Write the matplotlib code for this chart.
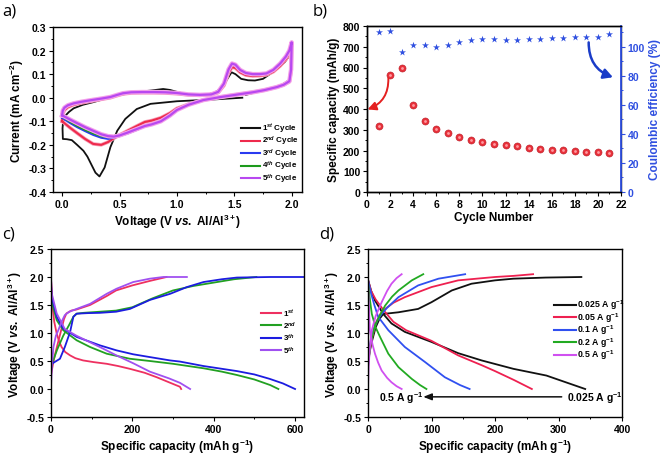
import matplotlib
matplotlib.use('Agg')
import matplotlib.pyplot as plt
from matplotlib.ticker import MultipleLocator
import matplotlib.patheffects as pe

plt.rcParams.update({
    'font.family': 'Liberation Sans',
    'font.weight': 'bold',
    'axes.labelweight': 'bold',
    'mathtext.fontset': 'custom',
    'mathtext.rm': 'Liberation Sans:bold',
    'mathtext.bf': 'Liberation Sans:bold',
    'mathtext.it': 'Liberation Sans:bold:italic',
    'xtick.direction': 'out', 'ytick.direction': 'out',
    'xtick.major.size': 2.8, 'ytick.major.size': 2.8,
    'xtick.minor.size': 1.5, 'ytick.minor.size': 1.5,
    'xtick.major.width': 0.8, 'ytick.major.width': 0.8,
    'xtick.minor.width': 0.7, 'ytick.minor.width': 0.7,
    'xtick.major.pad': 2, 'ytick.major.pad': 2,
    'axes.linewidth': 1.0,
    'xtick.labelsize': 7.5, 'ytick.labelsize': 7.5,
})

# ---------------- Panel a: CV data ----------------
cv1_v = [1.57, 1.3, 1.0, 0.77, 0.65, 0.55, 0.48, 0.42, 0.37, 0.325, 0.29, 0.26, 0.22, 0.185, 0.13, 0.084,
         0.04, 0.006, 0.003, 0.008, 0.03, 0.06, 0.1, 0.18, 0.27, 0.37, 0.475, 0.6, 0.7, 0.765, 0.88, 0.94,
         1.02, 1.11, 1.26, 1.33, 1.40, 1.44, 1.476, 1.51, 1.56, 1.62, 1.68, 1.75, 1.81, 1.88, 1.94, 1.997,
         1.995, 1.98, 1.9, 1.8, 1.7, 1.6]
cv1_i = [0.0, -0.008, -0.015, -0.026, -0.048, -0.09, -0.14, -0.21, -0.296, -0.334, -0.318, -0.289, -0.25,
         -0.225, -0.2, -0.18, -0.176, -0.175, -0.13, -0.1, -0.075, -0.06, -0.045, -0.03, -0.019, -0.005,
         0.009, 0.02, 0.027, 0.03, 0.037, 0.033, 0.022, 0.013, 0.013, 0.022, 0.045, 0.08, 0.108, 0.1, 0.08,
         0.074, 0.073, 0.08, 0.1, 0.125, 0.151, 0.19, 0.12, 0.075, 0.05, 0.035, 0.025, 0.012]

cv_v = [0.0, 0.005, 0.02, 0.05, 0.1, 0.17, 0.27, 0.35, 0.42, 0.48, 0.53, 0.6, 0.7, 0.8, 0.9, 1.0, 1.1, 1.2,
        1.3, 1.36, 1.41, 1.45, 1.48, 1.51, 1.55, 1.6, 1.66, 1.72, 1.78, 1.84, 1.9, 1.95, 1.98, 2.0, 1.995,
        1.98, 1.93, 1.87, 1.76, 1.66, 1.52, 1.37, 1.23, 1.1, 1.0, 0.94, 0.86, 0.78, 0.72, 0.65, 0.57, 0.5,
        0.45, 0.4, 0.34, 0.27, 0.2, 0.13, 0.07, 0.02, 0.0]
cv2_i = [-0.1, -0.07, -0.052, -0.04, -0.03, -0.022, -0.013, -0.006, 0.0, 0.009,
         0.016, 0.02, 0.021, 0.021, 0.02, 0.017, 0.012, 0.01, 0.012, 0.022,
         0.052, 0.105, 0.13, 0.126, 0.108, 0.096, 0.092, 0.093, 0.097, 0.11,
         0.135, 0.163, 0.188, 0.222, 0.115, 0.068, 0.055, 0.045, 0.032, 0.023,
         0.013, 0.002, -0.01, -0.028, -0.045, -0.065, -0.085, -0.097, -0.103, -0.12,
         -0.14, -0.158, -0.172, -0.188, -0.2, -0.196, -0.175, -0.15, -0.128, -0.108, -0.1]
cv3_i = [-0.085, -0.06, -0.045, -0.034, -0.025, -0.018, -0.01, -0.004, 0.002, 0.011,
         0.018, 0.022, 0.023, 0.023, 0.022, 0.019, 0.013, 0.011, 0.013, 0.024,
         0.058, 0.115, 0.14, 0.136, 0.116, 0.104, 0.1, 0.1, 0.103, 0.117,
         0.143, 0.172, 0.197, 0.232, 0.12, 0.07, 0.055, 0.045, 0.032, 0.023,
         0.013, 0.002, -0.01, -0.03, -0.053, -0.078, -0.102, -0.115, -0.122, -0.137,
         -0.152, -0.163, -0.17, -0.175, -0.17, -0.158, -0.142, -0.125, -0.108, -0.092, -0.085]
cv4_i = [-0.08, -0.058, -0.044, -0.033, -0.025, -0.018, -0.01, -0.004, 0.002, 0.011,
         0.018, 0.022, 0.023, 0.023, 0.022, 0.019, 0.013, 0.011, 0.013, 0.024,
         0.058, 0.116, 0.142, 0.138, 0.117, 0.104, 0.1, 0.1, 0.103, 0.117,
         0.143, 0.173, 0.198, 0.233, 0.12, 0.07, 0.055, 0.045, 0.032, 0.023,
         0.013, 0.002, -0.01, -0.03, -0.053, -0.077, -0.101, -0.114, -0.121, -0.135,
         -0.15, -0.16, -0.166, -0.168, -0.164, -0.152, -0.137, -0.12, -0.103, -0.087, -0.08]
cv5_i = [-0.075, -0.055, -0.042, -0.032, -0.024, -0.017, -0.009, -0.003, 0.003, 0.012,
         0.019, 0.023, 0.024, 0.024, 0.023, 0.02, 0.014, 0.012, 0.014, 0.025,
         0.06, 0.12, 0.145, 0.14, 0.118, 0.105, 0.1, 0.1, 0.103, 0.118,
         0.145, 0.175, 0.2, 0.235, 0.12, 0.07, 0.055, 0.045, 0.032, 0.023,
         0.013, 0.002, -0.01, -0.03, -0.052, -0.075, -0.1, -0.113, -0.12, -0.133,
         -0.148, -0.16, -0.165, -0.163, -0.155, -0.14, -0.125, -0.108, -0.093, -0.08, -0.075]
cv_labels = [r'1$^{st}$ Cycle', r'2$^{nd}$ Cycle', r'3$^{rd}$ Cycle', r'4$^{th}$ Cycle', r'5$^{th}$ Cycle']

# ---------------- Panel b: cycling data ----------------
cycles = list(range(1, 22))
capacity = [318, 562, 600, 418, 342, 305, 283, 267, 251, 241, 231, 226, 220, 214, 209, 204, 201, 198, 194, 191, 188]
efficiency = [110.4, 110.5, 96.5, 101.1, 101.0, 99.5, 101.0, 103.2, 104.4, 105.0, 105.0, 104.8, 104.8,
              105.5, 105.5, 106.0, 106.0, 106.5, 107.0, 107.0, 108.5]

# ---------------- Panel c: charge/discharge per cycle ----------------
c1_chg_q = [0, 5, 10, 18, 25, 32, 38, 50, 63, 96, 137, 160, 200, 243, 284]
c1_chg_v = [0.25, 0.45, 0.62, 0.85, 1.05, 1.25, 1.35, 1.4, 1.42, 1.5, 1.66, 1.76, 1.85, 1.93, 2.0]
c1_dis_q = [0, 2, 4, 8, 14, 20, 26, 35, 47, 60, 79, 105, 137, 165, 194, 230, 260, 290, 317, 320]
c1_dis_v = [1.95, 1.75, 1.46, 1.2, 0.99, 0.85, 0.75, 0.66, 0.6, 0.55, 0.51, 0.48, 0.45, 0.41, 0.36, 0.29, 0.21, 0.12, 0.04, 0.0]
c2_chg_q = [0, 5, 15, 30, 45, 55, 63, 80, 120, 160, 200, 250, 300, 350, 400, 450, 505]
c2_chg_v = [0.35, 0.5, 0.7, 0.95, 1.15, 1.29, 1.345, 1.36, 1.38, 1.4, 1.46, 1.62, 1.76, 1.84, 1.9, 1.96, 2.0]
c2_dis_q = [0, 2, 14, 30, 63, 96, 137, 194, 243, 300, 375, 420, 457, 500, 539, 559]
c2_dis_v = [1.7, 1.55, 1.23, 1.05, 0.87, 0.75, 0.63, 0.54, 0.5, 0.45, 0.37, 0.31, 0.25, 0.17, 0.07, 0.0]
c3_chg_q = [0, 2, 22, 34, 47, 55, 63, 90, 120, 160, 194, 243, 293, 317, 334, 375, 420, 457, 539, 620]
c3_chg_v = [0.3, 0.45, 0.54, 0.75, 1.02, 1.29, 1.345, 1.355, 1.36, 1.38, 1.43, 1.59, 1.70, 1.77, 1.82, 1.91, 1.96, 1.99, 2.0, 2.0]
c3_dis_q = [0, 2, 14, 30, 63, 120, 161, 202, 243, 293, 317, 375, 457, 500, 538, 570, 600]
c3_dis_v = [1.85, 1.64, 1.29, 1.08, 0.93, 0.78, 0.69, 0.62, 0.57, 0.51, 0.49, 0.41, 0.32, 0.26, 0.18, 0.1, 0.0]
c5_chg_q = [0, 2, 6, 12, 18, 26, 34, 45, 63, 96, 137, 161, 202, 243, 276, 334]
c5_chg_v = [0.05, 0.4, 0.75, 0.95, 1.05, 1.2, 1.32, 1.38, 1.43, 1.52, 1.70, 1.79, 1.91, 1.97, 2.0, 2.0]
c5_dis_q = [0, 2, 14, 34, 63, 120, 161, 202, 243, 290, 317, 342]
c5_dis_v = [1.98, 1.7, 1.35, 1.07, 0.95, 0.75, 0.6, 0.46, 0.31, 0.19, 0.11, 0.0]
c_labels = [r'1$^{st}$', r'2$^{nd}$', r'3$^{th}$', r'5$^{th}$']

# ---------------- Panel d: rate data ----------------
d025_chg_q = [0, 5, 12, 18, 24, 48, 79, 100, 132, 163, 200, 229, 280, 336]
d025_chg_v = [0.5, 0.8, 1.1, 1.25, 1.34, 1.37, 1.43, 1.55, 1.76, 1.88, 1.94, 1.97, 1.99, 2.0]
d025_dis_q = [0, 5, 11, 24, 37, 58, 100, 142, 179, 229, 281, 342]
d025_dis_v = [1.95, 1.75, 1.58, 1.34, 1.17, 1.02, 0.84, 0.64, 0.51, 0.36, 0.24, 0.0]
d05_chg_q = [0, 6, 13, 20, 27, 40, 58, 100, 142, 200, 229, 260]
d05_chg_v = [0.5, 0.9, 1.2, 1.35, 1.43, 1.54, 1.64, 1.82, 1.94, 2.0, 2.02, 2.05]
d05_dis_q = [0, 5, 12, 25, 40, 60, 100, 142, 180, 200, 230, 258]
d05_dis_v = [1.95, 1.75, 1.6, 1.4, 1.2, 1.05, 0.86, 0.6, 0.42, 0.32, 0.16, 0.0]
d1_chg_q = [0, 5, 10, 16, 21.5, 30, 48, 79, 111, 153]
d1_chg_v = [0.55, 0.9, 1.1, 1.25, 1.34, 1.45, 1.64, 1.85, 1.97, 2.05]
d1_dis_q = [0, 5, 10, 16, 32, 58, 90, 121, 145, 160]
d1_dis_v = [1.95, 1.7, 1.5, 1.29, 1.05, 0.75, 0.48, 0.21, 0.07, 0.0]
d2_chg_q = [0, 4, 10, 18, 27, 38, 48, 69, 87]
d2_chg_v = [0.4, 0.8, 1.1, 1.3, 1.49, 1.65, 1.76, 1.94, 2.05]
d2_dis_q = [0, 3, 6, 12, 19, 32, 48, 69, 82, 92]
d2_dis_v = [1.9, 1.6, 1.34, 1.1, 0.93, 0.63, 0.39, 0.18, 0.07, 0.0]
d5_chg_q = [0, 1, 3, 6, 12, 21.5, 30, 37, 45, 53]
d5_chg_v = [0.0, 0.4, 0.75, 1.05, 1.3, 1.55, 1.75, 1.88, 1.98, 2.05]
d5_dis_q = [0, 1, 3, 7, 11, 16, 21.5, 30, 37, 45, 53]
d5_dis_v = [1.95, 1.6, 1.05, 0.8, 0.63, 0.47, 0.33, 0.2, 0.12, 0.05, 0.0]
d_labels = [r'0.025 A g$^{-1}$', r'0.05 A g$^{-1}$', r'0.1 A g$^{-1}$', r'0.2 A g$^{-1}$', r'0.5 A g$^{-1}$']

W, H = 661, 456
fig = plt.figure(figsize=(W / 100, H / 100), dpi=100)


def box(l, t, r, b):
    return [l / W, 1 - b / H, (r - l) / W, (b - t) / H]


LBL = 8.5

# ---- a ----
axa = fig.add_axes(box(53, 28, 302, 193))
cols_a = ['#111111', '#ee2a4c', '#2a3af0', '#1c9a1c', '#b848f0']
axa.plot(cv1_v, cv1_i, color=cols_a[0], lw=1.3)
axa.plot(cv_v, cv2_i, color=cols_a[1], lw=1.5,
         path_effects=[pe.Stroke(linewidth=2.6, foreground='#f8a0b8'), pe.Normal()])
axa.plot(cv_v, cv3_i, color=cols_a[2], lw=1.4)
axa.plot(cv_v, cv4_i, color=cols_a[3], lw=1.2)
axa.plot(cv_v, cv5_i, color=cols_a[4], lw=1.6,
         path_effects=[pe.Stroke(linewidth=3.2, foreground='#f4a0ea'), pe.Normal()])
axa.set_xlim(-0.08, 2.09)
axa.set_ylim(-0.4, 0.3)
axa.xaxis.set_major_locator(MultipleLocator(0.5))
axa.xaxis.set_minor_locator(MultipleLocator(0.25))
axa.yaxis.set_major_locator(MultipleLocator(0.1))
axa.yaxis.set_minor_locator(MultipleLocator(0.05))
axa.xaxis.set_major_formatter(plt.FormatStrFormatter('%.1f'))
axa.yaxis.set_major_formatter(plt.FormatStrFormatter('%.1f'))
axa.set_xlabel(r'Voltage (V $\mathit{vs.}$ Al/Al$^{3+}$)', fontsize=LBL, labelpad=2)
axa.set_ylabel(r'Current (mA cm$^{-2}$)', fontsize=LBL, labelpad=2)
for k, (lab, col) in enumerate(zip(cv_labels, cols_a)):
    y = 129 + k * 12.5
    axa.plot([241 / W, 260 / W], [1 - y / H] * 2, transform=fig.transFigure, color=col, lw=1.5,
             clip_on=False)
    fig.text(262 / W, 1 - y / H, lab, fontsize=5.8, va='center', ha='left')

# ---- b ----
axb = fig.add_axes(box(367, 27, 621, 193))
axb.scatter(cycles, capacity, s=26, color='#e8303a', edgecolor='#b81e28', linewidth=0.4, zorder=3)
axb.scatter(cycles, capacity, s=4, color='#ff9aa0', linewidth=0, zorder=4)
axb.set_xlim(0, 22)
axb.set_ylim(0, 800)
axb.xaxis.set_major_locator(MultipleLocator(2))
axb.xaxis.set_minor_locator(MultipleLocator(1))
axb.yaxis.set_major_locator(MultipleLocator(100))
axb.yaxis.set_minor_locator(MultipleLocator(50))
axb.set_xlabel('Cycle Number', fontsize=LBL, labelpad=2)
axb.set_ylabel('Specific capacity (mAh/g)', fontsize=LBL, labelpad=2)
axb.annotate('', xy=(0.05, 398), xytext=(1.85, 548),
             arrowprops=dict(arrowstyle='-|>,head_length=0.5,head_width=0.25', color='#e42020', lw=1.4,
                             connectionstyle='arc3,rad=-0.35', shrinkA=0, shrinkB=0))
blue = '#2f4fe0'
axb2 = axb.twinx()
axb2.set_position(box(367, 27, 621, 193))
axb2.scatter(cycles, efficiency, s=28, marker='*', color=blue, linewidth=0, zorder=3)
axb2.set_ylim(0, 800 / 7)
axb2.yaxis.set_major_locator(MultipleLocator(20))
axb2.yaxis.set_minor_locator(MultipleLocator(10))
axb2.tick_params(axis='y', colors=blue, which='both')
axb2.spines['right'].set_color(blue)
axb2.spines['right'].set_linewidth(1.3)
axb2.set_ylabel('Coulombic efficiency (%)', fontsize=LBL, color=blue, labelpad=3)
axb2.annotate('', xy=(21.3, 79), xytext=(19.2, 103),
              arrowprops=dict(arrowstyle='-|>,head_length=0.55,head_width=0.3', color='#1a3cc8', lw=1.8,
                              connectionstyle='arc3,rad=0.35', shrinkA=0, shrinkB=0))

# ---- c ----
axc = fig.add_axes(box(51, 250, 304, 418))
cols_c = ['#ee3060', '#22a022', '#1c1ce0', '#a050f0']
cdata = [(c1_chg_q, c1_chg_v, c1_dis_q, c1_dis_v), (c2_chg_q, c2_chg_v, c2_dis_q, c2_dis_v),
         (c3_chg_q, c3_chg_v, c3_dis_q, c3_dis_v), (c5_chg_q, c5_chg_v, c5_dis_q, c5_dis_v)]
for col, (cq, cv, dq, dv) in zip(cols_c, cdata):
    axc.plot(cq, cv, color=col, lw=1.3)
    axc.plot(dq, dv, color=col, lw=1.3)
axc.set_xlim(0, 622)
axc.set_ylim(-0.5, 2.5)
axc.xaxis.set_major_locator(MultipleLocator(200))
axc.xaxis.set_minor_locator(MultipleLocator(100))
axc.yaxis.set_major_locator(MultipleLocator(0.5))
axc.yaxis.set_minor_locator(MultipleLocator(0.25))
axc.yaxis.set_major_formatter(plt.FormatStrFormatter('%.1f'))
axc.set_xlabel(r'Specific capacity (mAh g$^{-1}$)', fontsize=LBL, labelpad=2)
axc.set_ylabel(r'Voltage (V $\mathit{vs.}$ Al/Al$^{3+}$)', fontsize=LBL, labelpad=2)
for k, (lab, col) in enumerate(zip(c_labels, cols_c)):
    y = 313.5 + k * 12.5
    axc.plot([261 / W, 281 / W], [1 - y / H] * 2, transform=fig.transFigure, color=col, lw=1.5,
             clip_on=False)
    fig.text(283 / W, 1 - y / H, lab, fontsize=5.8, va='center', ha='left')

# ---- d ----
axd = fig.add_axes(box(368, 250, 622, 418))
cols_d = ['#111111', '#ee2050', '#3050f0', '#22aa22', '#d050f0']
ddata = [(d025_chg_q, d025_chg_v, d025_dis_q, d025_dis_v), (d05_chg_q, d05_chg_v, d05_dis_q, d05_dis_v),
         (d1_chg_q, d1_chg_v, d1_dis_q, d1_dis_v), (d2_chg_q, d2_chg_v, d2_dis_q, d2_dis_v),
         (d5_chg_q, d5_chg_v, d5_dis_q, d5_dis_v)]
for col, (cq, cv, dq, dv) in zip(cols_d, ddata):
    axd.plot(cq, cv, color=col, lw=1.3)
    axd.plot(dq, dv, color=col, lw=1.3)
axd.set_xlim(0, 400)
axd.set_ylim(-0.5, 2.5)
axd.xaxis.set_major_locator(MultipleLocator(100))
axd.xaxis.set_minor_locator(MultipleLocator(50))
axd.yaxis.set_major_locator(MultipleLocator(0.5))
axd.yaxis.set_minor_locator(MultipleLocator(0.25))
axd.yaxis.set_major_formatter(plt.FormatStrFormatter('%.1f'))
axd.set_xlabel(r'Specific capacity (mAh g$^{-1}$)', fontsize=LBL, labelpad=2)
axd.set_ylabel(r'Voltage (V $\mathit{vs.}$ Al/Al$^{3+}$)', fontsize=LBL, labelpad=2)
for k, (lab, col) in enumerate(zip(d_labels, cols_d)):
    y = 305.5 + k * 12.5
    axd.plot([554 / W, 576 / W], [1 - y / H] * 2, transform=fig.transFigure, color=col, lw=1.5,
             clip_on=False)
    fig.text(577 / W, 1 - y / H, lab, fontsize=6.3, va='center', ha='left')
axd.annotate('', xy=(87, -0.14), xytext=(305, -0.14),
             arrowprops=dict(arrowstyle='-|>,head_length=0.5,head_width=0.2', color='#111111', lw=1.1,
                             shrinkA=0, shrinkB=0))
axd.text(52, -0.14, r'0.5 A g$^{-1}$', fontsize=7.5, ha='center', va='center')
axd.text(313, -0.14, r'0.025 A g$^{-1}$', fontsize=7.5, ha='left', va='center')

# panel letters
for txt, x, y in [('a)', 2, 3), ('b)', 313, 3), ('c)', 2, 227), ('d)', 319, 227)]:
    fig.text(x / W, 1 - y / H, txt, fontsize=12, fontfamily='Open Sans', fontweight='normal',
             va='top', ha='left')

fig.savefig('out.png', dpi=100)
